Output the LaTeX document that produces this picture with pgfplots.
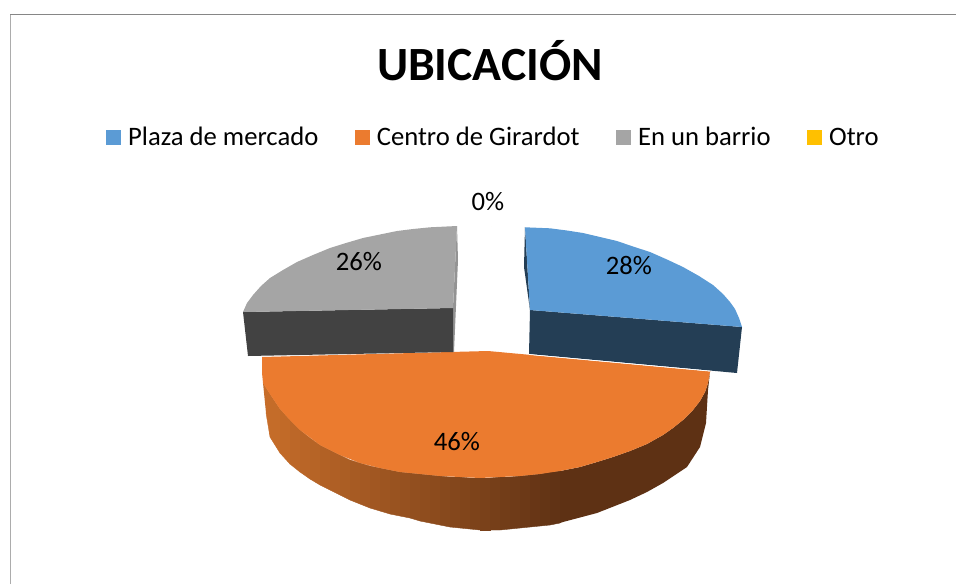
\documentclass[border=0pt]{standalone}
\usepackage{fontspec}
\setmainfont{Carlito}
\usepackage{pgfplots}
\pgfplotsset{compat=1.18}
\definecolor{cblue}{HTML}{5B9BD5}
\definecolor{cbluedk}{HTML}{243E55}
\definecolor{corange}{HTML}{EB7B2F}
\definecolor{cgrey}{HTML}{A5A5A5}
\definecolor{cgreydk}{HTML}{424242}
\definecolor{cyellow}{HTML}{FFC000}
\definecolor{sidelt}{HTML}{C86E2A}
\definecolor{sidedk}{HTML}{5E3114}

\begin{document}
\begin{tikzpicture}
\path[use as bounding box] (0pt,0pt) rectangle (956pt,584pt);
\begin{axis}[width=956pt,height=584pt,scale only axis,
xmin=0,xmax=956,ymin=0,ymax=584,y dir=reverse,axis lines=none,clip=true,
font=\fontsize{26.65}{30}\selectfont,
strip/.style={forget plot,fill=sidelt!#1!sidedk,draw=sidelt!#1!sidedk,line width=0.4pt},
legend columns=4,
legend cell align=left,
legend image code/.code={\fill[#1] (0pt,-7.5pt) rectangle (15pt,7.5pt);},
legend style={at={(axis cs:106,137.5)},anchor=west,draw=none,fill=none,inner sep=0pt,
/tikz/every even column/.append style={column sep=36.5pt},
/tikz/every odd column/.append style={column sep=7pt},
nodes={inner sep=0pt,text height=19pt,text depth=4pt}}]

% frame
\addplot[forget plot,draw=gray!65,line width=1pt] coordinates {(10,584) (10,14.5)};
\addplot[forget plot,draw=gray!95,line width=1pt] coordinates {(10,14.5) (956,14.5)};

% Plaza de mercado
\addplot[forget plot,fill=cbluedk,draw=none] coordinates {(525,227) (524,267) (530,310)};
\addplot[forget plot,fill=cbluedk,draw=none] coordinates {(530,310) (742,327) (737,373) (529,354)};
\addplot[fill=cblue,draw=none] coordinates {
(525,227.3) (550,228.3) (567,230.5) (583,233) (600,237) (617,241) (633,246.5) (650,252) (667,259.5) (683,267) (699,276) (713,285) (723,294) (730,302) (735,309) (739,318) (742,327) (530,310)};
\addlegendentry{Plaza de mercado}

% Centro de Girardot: side wall, one strip per shade
\addplot[strip=99] coordinates {(263,383) (270,394) (270,437) (266,413)};
\addplot[strip=96] coordinates {(270,394) (280,409) (280,453) (270,437)};
\addplot[strip=93] coordinates {(280,409) (290,420) (290,464) (280,453)};
\addplot[strip=89] coordinates {(290,420) (300,430) (300,472) (290,464)};
\addplot[strip=86] coordinates {(300,430) (310,438) (310,479) (300,472)};
\addplot[strip=83] coordinates {(310,438) (320,445) (320,485) (310,479)};
\addplot[strip=79] coordinates {(320,445) (330,450) (330,490) (320,485)};
\addplot[strip=76] coordinates {(330,450) (340,455) (340,495) (330,490)};
\addplot[strip=73] coordinates {(340,455) (350,460) (350,500) (340,495)};
\addplot[strip=69] coordinates {(350,460) (360,463) (360,504) (350,500)};
\addplot[strip=66] coordinates {(360,463) (370,466) (370,508) (360,504)};
\addplot[strip=63] coordinates {(370,466) (380,468) (380,511) (370,508)};
\addplot[strip=59] coordinates {(380,468) (390,470) (390,514) (380,511)};
\addplot[strip=56] coordinates {(390,470) (400,472) (400,516) (390,514)};
\addplot[strip=53] coordinates {(400,472) (410,473) (410,518) (400,516)};
\addplot[strip=49] coordinates {(410,473) (420,474) (420,521) (410,518)};
\addplot[strip=46] coordinates {(420,474) (430,475) (430,523) (420,521)};
\addplot[strip=43] coordinates {(430,475) (440,476) (440,525) (430,523)};
\addplot[strip=39] coordinates {(440,476) (450,477) (450,527) (440,525)};
\addplot[strip=36] coordinates {(450,477) (460,477) (460,528) (450,527)};
\addplot[strip=33] coordinates {(460,477) (470,478) (470,529) (460,528)};
\addplot[strip=29] coordinates {(470,478) (480,478) (480,530) (470,529)};
\addplot[strip=26] coordinates {(480,478) (490,478) (490,530) (480,530)};
\addplot[strip=23] coordinates {(490,478) (500,477) (500,530) (490,530)};
\addplot[strip=19] coordinates {(500,477) (510,477) (510,529) (500,530)};
\addplot[strip=16] coordinates {(510,477) (520,476) (520,528) (510,529)};
\addplot[strip=13] coordinates {(520,476) (530,475) (530,527) (520,528)};
\addplot[strip=9] coordinates {(530,475) (540,474) (540,526) (530,527)};
\addplot[strip=6] coordinates {(540,474) (550,472) (550,525) (540,526)};
\addplot[strip=3] coordinates {(550,472) (560,471) (560,523) (550,525)};
\addplot[forget plot,fill=sidedk,draw=none] coordinates {
(560,471) (580,467) (597,462) (613,457) (630,451) (647,444) (663,435) (673,428) (683,420) (693,410) (700,401) (705,392) (708,383) (710,372)
(708,390) (706,423) (700,447) (687,467) (663,483) (647,492) (630,500) (597,513) (563,522) (560,523)};
\addplot[fill=corange,draw=none] coordinates {
(262,357) (488,351) (711,371.5) (710,372) (708,383) (705,392) (700,401) (693,410) (683,420) (673,428) (663,435) (647,444) (630,451) (613,457) (597,462) (580,467) (560,471) (540,474) (520,476) (500,477) (480,478) (460,477) (440,476) (420,474) (400,472) (380,468) (360,463) (340,455) (320,445) (300,430) (290,420) (280,409) (270,394) (263,383) (262,373)};
\addlegendentry{Centro de Girardot}
\addplot[forget plot,draw=white,line width=0.7pt] coordinates {(529,354.5) (711,371.2)};

% En un barrio
\addplot[forget plot,fill=gray!85,draw=none] coordinates {(457,226) (458,260) (454,352) (453,352) (453,308)};
\addplot[forget plot,fill=cgreydk,draw=none] coordinates {(243,312) (453,308) (453,352) (248,356)};
\addplot[fill=cgrey,draw=none] coordinates {
(457,226) (430,227.3) (413,229) (397,231) (380,234.5) (363,238) (346,243) (330,248) (313,255) (297,262) (283,270) (270,278) (261,286) (253,295) (247,303) (243,312) (453,308)};
\addlegendentry{En un barrio}

% Otro, 0%
\addplot[fill=cyellow,draw=none] coordinates {(491,226) (491,226) (491,226)};
\addlegendentry{Otro}

\node at (axis cs:490,61) {\fontsize{47.7}{50}\selectfont\bfseries UBICACIÓN};
\node at (axis cs:488,202) {0\%};
\node at (axis cs:629,266) {28\%};
\node at (axis cs:359,262) {26\%};
\node at (axis cs:457,442) {46\%};
\end{axis}
\end{tikzpicture}
\end{document}
